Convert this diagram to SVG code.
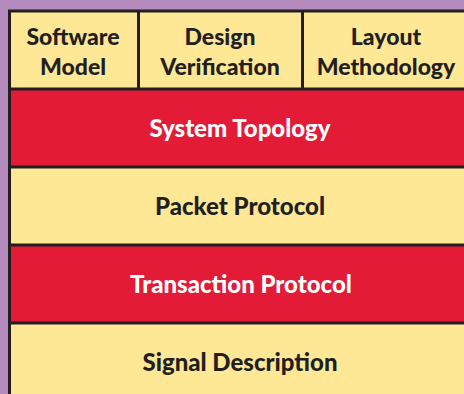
<svg xmlns="http://www.w3.org/2000/svg" width="464" height="394" viewBox="0 0 464 394">
<style>
.y{fill:#FEE896}
.r{fill:#E31B37}
.ln{stroke:#231F20;stroke-width:3;fill:none}
text{font-family:Lato,"Liberation Sans",sans-serif;font-weight:900;font-size:23px;text-anchor:middle}
.b{font-size:24px}
.d{fill:#231F20}
.w{fill:#FFFFFF}
</style>
<rect x="0" y="0" width="464" height="394" fill="#B58BBE"/>
<g id="header">
<rect class="y" x="9" y="10" width="460" height="79"/>
</g>
<g id="software-model">
<text class="d" x="73" y="45">Software</text>
<text class="d" x="73" y="75">Model</text>
</g>
<g id="design-verification">
<text class="d" x="220" y="45">Design</text>
<text class="d" x="220" y="75">Verification</text>
</g>
<g id="layout-methodology">
<text class="d" x="386" y="45">Layout</text>
<text class="d" x="386" y="75">Methodology</text>
</g>
<g id="system-topology">
<rect class="r" x="9" y="89" width="460" height="78"/>
<text class="w b" x="240" y="137">System Topology</text>
</g>
<g id="packet-protocol">
<rect class="y" x="9" y="167" width="460" height="78"/>
<text class="d b" x="240" y="215">Packet Protocol</text>
</g>
<g id="transaction-protocol">
<rect class="r" x="9" y="245" width="460" height="78"/>
<text class="w b" x="241" y="293">Transaction Protocol</text>
</g>
<g id="signal-description">
<rect class="y" x="9" y="323" width="460" height="78"/>
<text class="d b" x="240" y="371">Signal Description</text>
</g>
<g id="connectors">
<path class="ln" d="M9.5 400 V11 H470"/>
<path class="ln" d="M138.5 11 V89 M302.5 11 V89"/>
<path class="ln" d="M9 89 H470 M9 167 H470 M9 245 H470 M9 323 H470"/>
</g>
</svg>
